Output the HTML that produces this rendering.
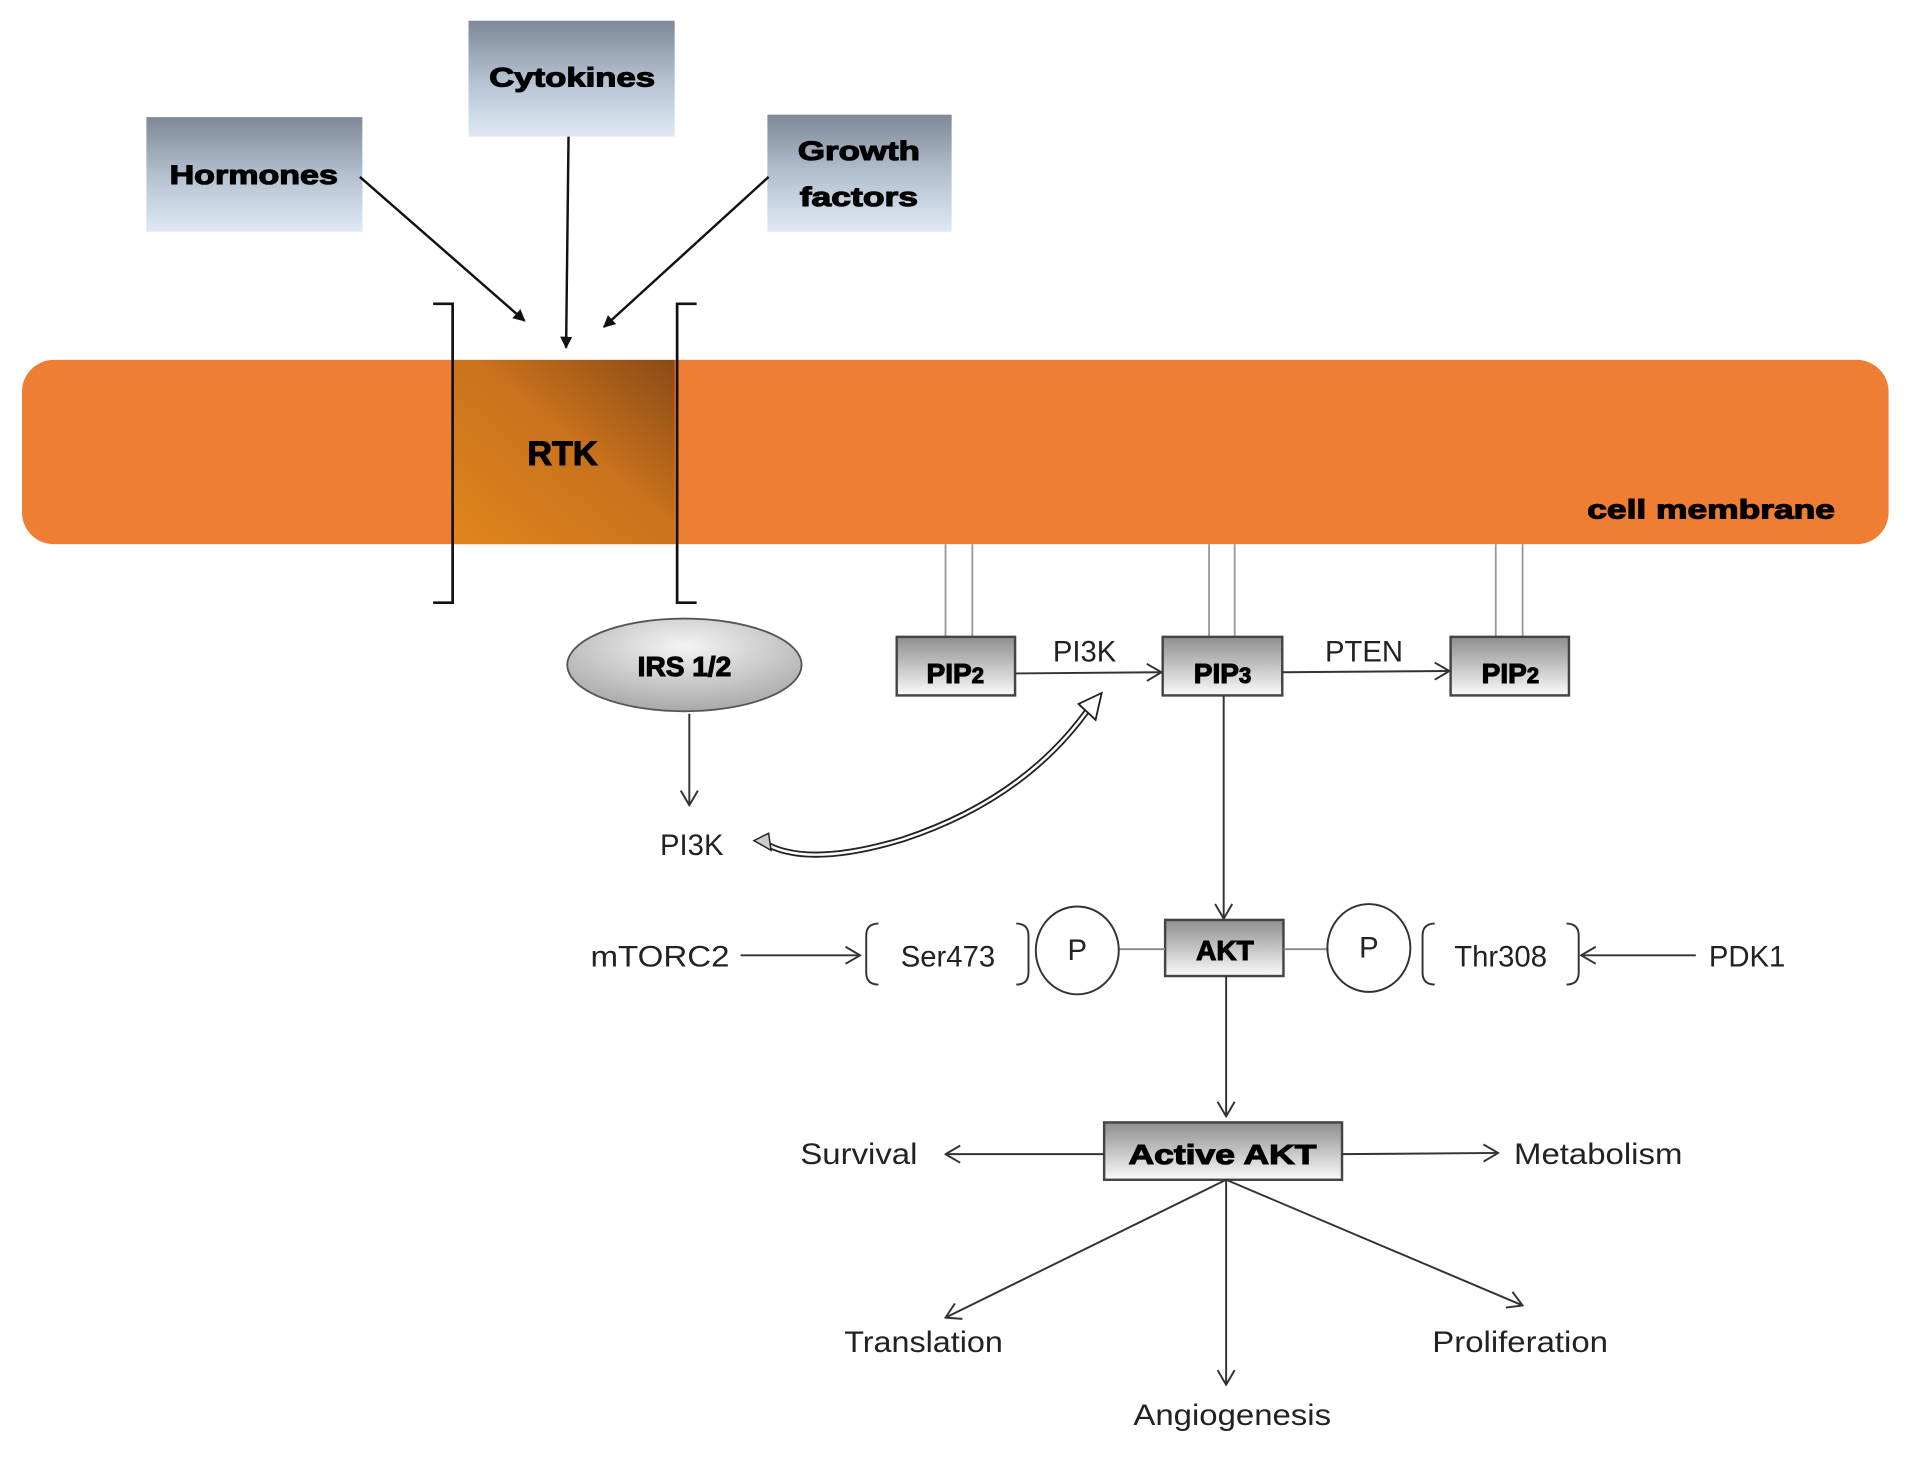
<!DOCTYPE html>
<html><head><meta charset="utf-8"><style>
html,body{margin:0;padding:0;background:#fff;}
svg{display:block;}
text{font-family:"Liberation Sans",sans-serif;}
.b{font-weight:bold;stroke:#000;stroke-width:0.9;}
</style></head><body>
<svg width="1913" height="1466" viewBox="0 0 1568 1201.6" preserveAspectRatio="none" xmlns="http://www.w3.org/2000/svg">
<defs>
<linearGradient id="bx" x1="0" y1="0" x2="0" y2="1">
<stop offset="0" stop-color="#7e8896"/><stop offset="0.5" stop-color="#b3c0cf"/><stop offset="1" stop-color="#dfe9f5"/></linearGradient>
<linearGradient id="gr" x1="0" y1="0" x2="0" y2="1">
<stop offset="0" stop-color="#8e8e8e"/><stop offset="1" stop-color="#fafafa"/></linearGradient>
<linearGradient id="rtk" x1="0" y1="1" x2="1" y2="0">
<stop offset="0" stop-color="#e0851e"/><stop offset="0.55" stop-color="#c8721c"/><stop offset="1" stop-color="#8a4a16"/></linearGradient>
<radialGradient id="el" cx="0.5" cy="0.3" r="0.7">
<stop offset="0" stop-color="#f4f4f4"/><stop offset="1" stop-color="#a9a9a9"/></radialGradient>
<marker id="fa" markerWidth="10" markerHeight="10" refX="9" refY="5" orient="auto" markerUnits="userSpaceOnUse">
<path d="M0,0 L10,5 L0,10 z" fill="#111"/></marker>
<marker id="oa" markerWidth="14" markerHeight="16" refX="13" refY="8" orient="auto" markerUnits="userSpaceOnUse">
<path d="M1,1 L13,8 L1,15" fill="none" stroke="#333" stroke-width="1.6"/></marker>
</defs>

<rect x="120" y="96" width="177" height="94" fill="url(#bx)"/>
<text x="208" y="151" class="b" font-size="22" text-anchor="middle" textLength="138" lengthAdjust="spacingAndGlyphs">Hormones</text>
<rect x="384" y="17" width="169" height="95" fill="url(#bx)"/>
<text x="469" y="71" class="b" font-size="22" text-anchor="middle" textLength="136" lengthAdjust="spacingAndGlyphs">Cytokines</text>
<rect x="629" y="94" width="151" height="96" fill="url(#bx)"/>
<text x="704" y="131" class="b" font-size="22" text-anchor="middle" textLength="100" lengthAdjust="spacingAndGlyphs">Growth</text>
<text x="704" y="169" class="b" font-size="22" text-anchor="middle" textLength="97" lengthAdjust="spacingAndGlyphs">factors</text>

<line x1="295" y1="145" x2="430" y2="263" stroke="#111" stroke-width="2" marker-end="url(#fa)"/>
<line x1="466" y1="112" x2="464" y2="285" stroke="#111" stroke-width="2" marker-end="url(#fa)"/>
<line x1="630" y1="145" x2="495" y2="268" stroke="#111" stroke-width="2" marker-end="url(#fa)"/>

<rect x="18" y="295" width="1530" height="151" rx="26" fill="#ed7e34"/>
<rect x="372" y="295" width="181" height="151" fill="url(#rtk)"/>
<text x="461" y="381" class="b" font-size="28" text-anchor="middle">RTK</text>
<text x="1504" y="425" class="b" font-size="22" text-anchor="end" textLength="203" lengthAdjust="spacingAndGlyphs">cell membrane</text>
<path d="M355,249 H371 V494 H355" fill="none" stroke="#111" stroke-width="2.2"/>
<path d="M571,249 H555 V494 H571" fill="none" stroke="#111" stroke-width="2.2"/>

<g stroke="#999" stroke-width="1.5">
<line x1="775" y1="446" x2="775" y2="522"/><line x1="797" y1="446" x2="797" y2="522"/>
<line x1="991" y1="446" x2="991" y2="522"/><line x1="1012" y1="446" x2="1012" y2="522"/>
<line x1="1226" y1="446" x2="1226" y2="522"/><line x1="1248" y1="446" x2="1248" y2="522"/>
</g>

<g stroke="#444" stroke-width="2" fill="url(#gr)">
<rect x="735" y="522" width="97" height="48"/>
<rect x="953" y="522" width="98" height="48"/>
<rect x="1189" y="522" width="97" height="48"/>
<rect x="955" y="754" width="97" height="46"/>
<rect x="905" y="920" width="195" height="47"/>
</g>
<text x="783" y="560" class="b" font-size="23" text-anchor="middle">PIP<tspan font-size="18">2</tspan></text>
<text x="1002" y="560" class="b" font-size="23" text-anchor="middle">PIP<tspan font-size="18">3</tspan></text>
<text x="1238" y="560" class="b" font-size="23" text-anchor="middle">PIP<tspan font-size="18">2</tspan></text>
<text x="1004" y="787" class="b" font-size="23" text-anchor="middle">AKT</text>
<text x="1002" y="954" class="b" font-size="23" text-anchor="middle" textLength="154" lengthAdjust="spacingAndGlyphs">Active AKT</text>

<g stroke="#333" stroke-width="1.6" fill="none">
<line x1="832" y1="552" x2="952" y2="551" marker-end="url(#oa)"/>
<line x1="1051" y1="551" x2="1188" y2="550" marker-end="url(#oa)"/>
<line x1="565" y1="585" x2="565" y2="660" marker-end="url(#oa)"/>
<line x1="1003" y1="570" x2="1003" y2="753" marker-end="url(#oa)"/>
<line x1="1005" y1="800" x2="1005" y2="915" marker-end="url(#oa)"/>
<line x1="607" y1="783" x2="705" y2="783" marker-end="url(#oa)"/>
<line x1="1390" y1="783" x2="1296" y2="783" marker-end="url(#oa)"/>
<line x1="917" y1="778" x2="955" y2="778" stroke="#888"/>
<line x1="1052" y1="778" x2="1089" y2="778" stroke="#888"/>
<line x1="905" y1="946" x2="775" y2="946" marker-end="url(#oa)"/>
<line x1="1100" y1="946" x2="1228" y2="945" marker-end="url(#oa)"/>
<line x1="1005" y1="967" x2="775" y2="1080" marker-end="url(#oa)"/>
<line x1="1005" y1="967" x2="1005" y2="1135" marker-end="url(#oa)"/>
<line x1="1005" y1="967" x2="1248" y2="1070" marker-end="url(#oa)"/>
<path d="M720,757 Q710,757 710,767 V797 Q710,807 720,807"/>
<path d="M833,757 Q843,757 843,767 V797 Q843,807 833,807"/>
<path d="M1176,757 Q1166,757 1166,767 V797 Q1166,807 1176,807"/>
<path d="M1284,757 Q1294,757 1294,767 V797 Q1294,807 1284,807"/>
<ellipse cx="883" cy="779" rx="34" ry="36"/>
<ellipse cx="1122" cy="777" rx="34" ry="36"/>
</g>

<ellipse cx="561" cy="545" rx="96" ry="38" fill="url(#el)" stroke="#555" stroke-width="1.5"/>
<text x="561" y="554" class="b" font-size="23" text-anchor="middle">IRS 1/2</text>

<path d="M625,690 Q660,712 740,688 Q840,655 893,580" fill="none" stroke="#222" stroke-width="5"/>
<path d="M625,690 Q660,712 740,688 Q840,655 893,580" fill="none" stroke="#fff" stroke-width="2"/>
<path d="M884,577 L903,568 L898,590 z" fill="#fff" stroke="#222" stroke-width="1.5"/>
<path d="M618,689 L630,683 L632,697 z" fill="#ccc" stroke="#222" stroke-width="1.2"/>

<g font-size="24" fill="#222">
<text x="889" y="542" text-anchor="middle">PI3K</text>
<text x="1118" y="542" text-anchor="middle">PTEN</text>
<text x="567" y="701" text-anchor="middle">PI3K</text>
<text x="541" y="792" text-anchor="middle" textLength="114" lengthAdjust="spacingAndGlyphs">mTORC2</text>
<text x="777" y="792" text-anchor="middle">Ser473</text>
<text x="883" y="787" text-anchor="middle">P</text>
<text x="1122" y="785" text-anchor="middle">P</text>
<text x="1230" y="792" text-anchor="middle">Thr308</text>
<text x="1432" y="792" text-anchor="middle">PDK1</text>
<text x="704" y="954" text-anchor="middle" textLength="96" lengthAdjust="spacingAndGlyphs">Survival</text>
<text x="1310" y="954" text-anchor="middle" textLength="138" lengthAdjust="spacingAndGlyphs">Metabolism</text>
<text x="757" y="1108" text-anchor="middle" textLength="130" lengthAdjust="spacingAndGlyphs">Translation</text>
<text x="1246" y="1108" text-anchor="middle" textLength="144" lengthAdjust="spacingAndGlyphs">Proliferation</text>
<text x="1010" y="1168" text-anchor="middle" textLength="162" lengthAdjust="spacingAndGlyphs">Angiogenesis</text>
</g>
</svg>
</body></html>
